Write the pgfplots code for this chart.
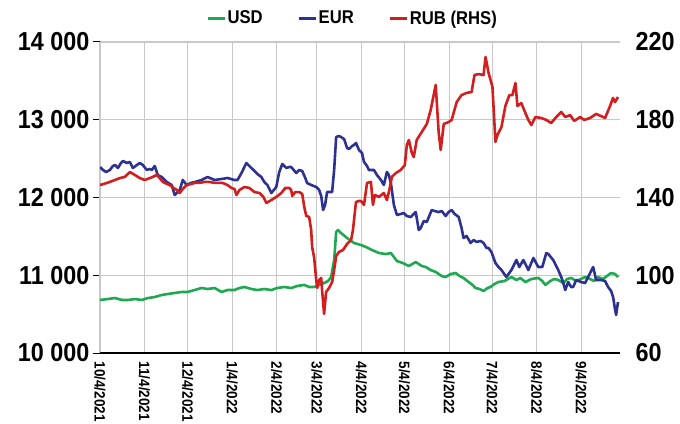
\documentclass[border=0pt]{standalone}
\usepackage{fontspec}
\setmainfont{Liberation Sans}[FakeStretch=0.9]
\usepackage{pgfplots}
\pgfplotsset{compat=1.18}
\definecolor{usd}{RGB}{30,168,80}
\definecolor{eur}{RGB}{45,50,145}
\definecolor{rub}{RGB}{210,30,30}
\definecolor{gridc}{RGB}{200,200,200}
\begin{document}
\begin{tikzpicture}
\begin{axis}[
 scale only axis, width=520pt, height=311pt,
 at={(0,0)}, anchor=south west,
 xmin=0, xmax=362, ymin=10000, ymax=14000,
 scaled y ticks=false,
 axis x line*=bottom, axis y line*=left,
 x axis line style={line width=2.6pt, black, -},
 y axis line style={gridc, line width=1pt, -},
 xtick={0,31,61,92,123,151,182,212,243,273,304,335},
 xticklabels={\mbox{10/4/2021},\mbox{11/4/2021},\mbox{12/4/2021},\mbox{1/4/2022},\mbox{2/4/2022},\mbox{3/4/2022},\mbox{4/4/2022},\mbox{5/4/2022},\mbox{6/4/2022},\mbox{7/4/2022},\mbox{8/4/2022},\mbox{9/4/2022}},
 xtick style={draw=none},
 xticklabel style={rotate=-90, anchor=west, xshift=-2pt, font=\bfseries\fontsize{15}{15}\selectfont},
 ytick={10000,11000,12000,13000,14000},
 yticklabels={\mbox{10 000},\mbox{11 000},\mbox{12 000},\mbox{13 000},\mbox{14 000}},
 ytick style={black, line width=1pt},
 tick align=outside, major tick length=7pt,
 yticklabel style={font=\bfseries\fontsize{26}{26}\selectfont},
 grid=major, major grid style={gridc, line width=1.1pt},
 line join=round,
]
\addplot[usd, line width=2.6pt] coordinates {
(0,10682)(5.5,10694)(10.4,10707)(15.3,10682)(19.4,10682)(24.3,10694)(29.1,10682)(33.3,10707)(38.1,10720)(43,10746)(47.2,10759)(52,10772)(56.9,10785)(61,10785)(65.9,10810)(70.7,10836)(74.9,10823)(79.8,10836)(84.6,10785)(88.8,10810)(93.6,10810)(97.1,10836)(100.6,10849)(105.4,10823)(109.6,10810)(114.4,10823)(119.3,10810)(123.4,10836)(128.3,10849)(133.1,10836)(137.3,10862)(142.2,10875)(145.6,10849)(149.1,10849)(152.6,10875)(156,10900)(158.8,10926)(160.9,10977)(163,11196)(164.4,11556)(165.7,11582)(167.8,11543)(172,11479)(176.8,11415)(181.7,11389)(185.2,11363)(189.3,11325)(194.2,11286)(199,11273)(202.5,11286)(206.7,11183)(210.8,11157)(215,11119)(219.8,11170)(224,11119)(226.8,11106)(230.2,11067)(233.7,11042)(237.9,10990)(240.6,10977)(244.1,11016)(247.6,11029)(250.3,10990)(253.1,10965)(256.6,10913)(259.4,10875)(261.4,10836)(264.2,10823)(267,10797)(269.8,10836)(271.8,10849)(274.6,10887)(277.4,10913)(281.6,10926)(286.4,10977)(289.9,10939)(292.6,10965)(296.1,10913)(300.3,10952)(305.1,10965)(307.9,10926)(310,10875)(313.5,10926)(316.2,10952)(319,10939)(322.5,10900)(325.2,10952)(328,10965)(331.5,10926)(334.9,10952)(337.7,10977)(341.2,10952)(343.9,10926)(346.7,10977)(350.2,10952)(352.9,10990)(355.8,11029)(358.6,11016)(360.6,10977)
};
\addplot[eur, line width=2.6pt] coordinates {
(0,12392)(2.1,12354)(4.2,12328)(6.9,12354)(9,12405)(10.4,12418)(12.5,12380)(14.6,12444)(16,12469)(18.7,12444)(20.8,12457)(22.9,12380)(25.7,12418)(27.7,12444)(29.8,12418)(32.6,12354)(34.7,12367)(36.1,12354)(38.1,12405)(40.2,12289)(43,12264)(45.1,12225)(46.5,12199)(49.9,12161)(52,12032)(53.4,12058)(55.5,12096)(57.6,12225)(60.3,12161)(63.1,12186)(65.9,12199)(70.7,12225)(74.9,12264)(79.8,12225)(84.6,12238)(88.8,12251)(93.6,12225)(95.7,12225)(98.5,12315)(101.9,12444)(104,12405)(107.5,12341)(109.6,12302)(112.3,12264)(114.4,12199)(116.5,12161)(119.3,12058)(122.7,12135)(124.8,12328)(126.9,12431)(129.7,12380)(131.8,12392)(133.1,12392)(136.6,12315)(138.7,12354)(140.8,12341)(142.9,12251)(144.2,12186)(147,12161)(150.5,12135)(152.6,12096)(154,12019)(155.3,11839)(156.7,11903)(158.1,12071)(161.6,12071)(163,12354)(164.4,12778)(166.4,12791)(167.8,12778)(169.9,12752)(172,12637)(173.4,12624)(175.5,12662)(176.8,12675)(178.2,12701)(180.3,12611)(182.4,12572)(183.8,12457)(185.9,12405)(187.2,12354)(190.7,12354)(192.8,12289)(195.6,12225)(197.6,12161)(199.7,12328)(201.1,12289)(202.5,12186)(204.6,11903)(206.7,11775)(209.4,11788)(211.5,11801)(213.6,11762)(216.4,11749)(219.8,11813)(221.9,11582)(223.3,11608)(225.4,11698)(227.5,11685)(229.5,11775)(230.9,11839)(233,11826)(235.8,11813)(237.9,11826)(240.6,11762)(242.7,11813)(244.8,11839)(246.9,11788)(249.7,11749)(251.7,11608)(253.1,11479)(255.2,11505)(258,11415)(260.1,11453)(262.1,11428)(264.9,11441)(267,11415)(269.1,11350)(270.5,11350)(272.5,11299)(275.3,11157)(277.4,11106)(279.5,11067)(282.9,10977)(286.4,11067)(289.9,11196)(291.9,11106)(294.7,11196)(298.2,11067)(301.7,11222)(305.1,11106)(307.9,11106)(310.7,11286)(312.1,11273)(315.5,11196)(319,11067)(321.1,10977)(322.5,10900)(323.9,10810)(325.9,10913)(328,10849)(329.4,10849)(331.5,10939)(334.9,10913)(337.7,10900)(339.8,10977)(343.3,11106)(345.4,10939)(348.8,10939)(351.6,10926)(353.7,10849)(355.8,10797)(357.2,10720)(358.6,10553)(359.3,10489)(360.6,10656)
};
\end{axis}
\begin{axis}[
 scale only axis, width=520pt, height=311pt,
 at={(0,0)}, anchor=south west,
 xmin=0, xmax=362, ymin=60, ymax=220,
 axis x line=none, axis y line*=right,
 y axis line style={draw=none},
 ytick={60,100,140,180,220},
 yticklabels={\mbox{60},\mbox{100},\mbox{140},\mbox{180},\mbox{220}},
 ytick style={draw=none}, major tick length=0pt,
 yticklabel style={font=\bfseries\fontsize{26}{26}\selectfont, anchor=west, xshift=12pt},
 line join=round,
 legend style={at={(0.485,1.077)}, anchor=center, draw=none, fill=none,
   legend columns=3, font=\bfseries\fontsize{18.5}{18.5}\selectfont,
   /tikz/every even column/.append style={column sep=34pt},
   nodes={inner xsep=1pt}},
 legend image code/.code={\draw[#1, line width=3pt] (0pt,0pt) -- (17pt,0pt);},
]
\addlegendimage{usd}
\addlegendentry{USD}
\addlegendimage{eur}
\addlegendentry{EUR}
\addplot[rub, line width=2.6pt] coordinates {
(0,146.4)(4.9,147.5)(10.4,149.0)(13.9,150.0)(17.3,150.6)(20.8,153.1)(24.3,151.6)(27.7,150.0)(31.2,149.0)(34.7,150.0)(36.8,150.6)(39.5,151.6)(41.6,150.0)(43.7,148.0)(46.5,147.0)(48.5,146.4)(51.3,144.9)(53.4,143.9)(55.5,142.3)(57.6,144.4)(60.3,146.4)(63.8,147.0)(65.9,147.5)(69.3,147.5)(72.8,148.0)(76.3,148.0)(79.8,147.5)(83.2,147.5)(85.3,147.5)(88.8,146.4)(91.5,144.9)(93.6,144.4)(95,141.3)(97.1,143.9)(100.6,145.4)(104,144.9)(107.5,142.8)(111,142.3)(113.7,140.3)(115.8,137.2)(119.3,138.7)(122.7,140.3)(126.2,142.3)(129,144.9)(131.8,144.9)(133.1,143.9)(133.8,140.8)(135.9,142.8)(138.7,142.8)(140.8,141.8)(142.2,135.1)(143.6,130.5)(145.6,130.0)(147,123.3)(147.7,114.5)(149.1,108.9)(150.5,97.6)(151.2,93.5)(152.6,97.6)(154,98.6)(154.6,92.4)(156,80.1)(157.4,91.4)(159.5,93.5)(161.6,96.5)(163,102.7)(164.4,109.9)(166.4,112.0)(169.2,113.0)(172,116.1)(174.8,118.1)(176.1,123.3)(178.2,137.7)(180.3,138.2)(181.7,138.2)(183.8,136.2)(185.9,147.5)(188.6,148.0)(190,136.2)(191.4,141.3)(194.2,140.3)(197.6,142.3)(199.7,138.7)(201.1,142.8)(203.2,150.6)(206,152.6)(209.4,154.2)(212.2,156.7)(213.6,167.0)(215,169.6)(217.1,162.9)(218.4,160.8)(220.5,169.6)(224,173.7)(227.5,177.8)(230.2,185.0)(233.7,197.9)(235.8,173.2)(237.2,164.4)(239.3,177.8)(242.7,178.8)(244.8,179.9)(248.3,189.1)(251.7,192.7)(255.2,193.8)(258.7,194.3)(260.7,203.0)(263.5,203.5)(267,203.0)(268.4,212.3)(270.5,204.1)(273.2,196.9)(275.3,168.6)(276.7,172.2)(279.5,176.3)(282.2,187.1)(285,192.7)(287.1,192.7)(289.2,198.9)(290.6,187.1)(293.3,188.6)(296.1,183.5)(298.2,179.9)(300.3,177.3)(303.1,181.4)(307.2,180.9)(310.7,179.9)(314.1,178.3)(317.6,181.4)(321.1,184.0)(323.9,181.4)(327.3,182.4)(330.1,179.4)(334.3,181.4)(337,179.9)(341.2,180.9)(345.4,183.0)(348.8,181.9)(351.6,180.9)(355.1,187.1)(357.1,191.2)(358.5,189.1)(360.6,191.7)
};
\addlegendentry{RUB (RHS)}
\end{axis}
\pgfresetboundingbox
\useasboundingbox (-100pt,-70pt) rectangle (580pt,353pt);
\end{tikzpicture}
\end{document}
